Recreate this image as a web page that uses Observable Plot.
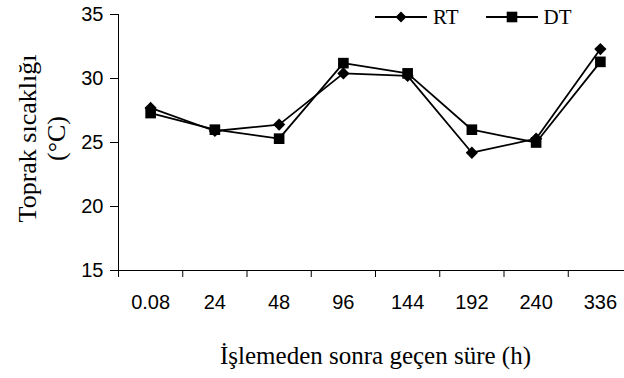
<!DOCTYPE html>
<html>
<head>
<meta charset="utf-8">
<script src="https://cdn.jsdelivr.net/npm/d3@7"></script>
<script src="https://cdn.jsdelivr.net/npm/@observablehq/plot@0.6"></script>
<style>
  html, body { margin: 0; padding: 0; background: #fff; }
  #wrap { position: relative; width: 624px; height: 378px; overflow: hidden; }
  #legend { position: absolute; left: 375px; top: 4px; font-family: "Liberation Serif", "Times New Roman", serif; font-size: 21px; line-height: 26px; color: #000; display: flex; align-items: center; }
  #legend .item { display: flex; align-items: center; }
  #legend svg { display: block; }
  #legend span { margin-left: 6px; }
</style>
</head>
<body>
<div id="wrap"><div id="legend"></div></div>
<script>
const categories = ["0.08", "24", "48", "96", "144", "192", "240", "336"];
const rtValues = [27.7, 25.9, 26.4, 30.4, 30.2, 24.2, 25.3, 32.3];
const dtValues = [27.3, 26.0, 25.3, 31.2, 30.4, 26.0, 25.0, 31.3];
const yTicks = [15, 20, 25, 30, 35];
const seriesNames = ["RT", "DT"];

const data = [];
categories.forEach((c, i) => {
  data.push({i, cat: c, series: "RT", value: rtValues[i]});
  data.push({i, cat: c, series: "DT", value: dtValues[i]});
});

const diamond = {
  draw(ctx, size) {
    const r = Math.sqrt(size / 2);
    ctx.moveTo(0, -r); ctx.lineTo(r, 0); ctx.lineTo(0, r); ctx.lineTo(-r, 0); ctx.closePath();
  }
};

const boundaries = d3.range(categories.length).map(i => i - 0.5);
const sans = "'Liberation Sans', Arial, sans-serif";
const serif = "'Liberation Serif', 'Times New Roman', serif";

const chart = Plot.plot({
  width: 624,
  height: 378,
  marginLeft: 118,
  marginRight: 0,
  marginTop: 14,
  marginBottom: 108,
  style: "font-family: 'Liberation Sans', Arial, sans-serif; font-size: 20px; color: #000; background: #fff;",
  x: {type: "linear", domain: [-0.5, categories.length - 0.5], range: [118, 632]},
  y: {domain: [15, 35]},
  marks: [
    Plot.axisY({ticks: yTicks, tickSize: 8, tickPadding: 7, tickFormat: d => d, label: null, fontSize: 20, fontFamily: sans}),
    Plot.axisX({ticks: boundaries, tickSize: 7, tickFormat: () => "", label: null}),
    Plot.axisX({ticks: d3.range(categories.length), tickSize: 0, tickPadding: 24, tickFormat: i => categories[i], label: null, fontSize: 20, fontFamily: sans}),
    Plot.ruleY([15], {stroke: "#000", strokeWidth: 1}),
    Plot.ruleX([-0.5], {y1: 15, y2: 35, stroke: "#000", strokeWidth: 1}),
    Plot.line(data, {x: "i", y: "value", z: "series", stroke: "#000", strokeWidth: 1.8}),
    Plot.dot(data.filter(d => d.series === "RT"), {x: "i", y: "value", symbol: diamond, r: 4.9, fill: "#000", stroke: "none"}),
    Plot.dot(data.filter(d => d.series === "DT"), {x: "i", y: "value", symbol: "square", r: 6, fill: "#000", stroke: "none"}),
    Plot.text(["Toprak sıcaklığı\n(°C)"], {frameAnchor: "left", rotate: -90, dx: -77, dy: -4, fontFamily: serif, fontSize: 26, lineHeight: 1.08, textAnchor: "middle", lineAnchor: "middle", fill: "#000"}),
    Plot.text(["İşlemeden sonra geçen süre (h)"], {frameAnchor: "bottom", dy: 85, dx: 4, fontFamily: serif, fontSize: 25, textAnchor: "middle", lineAnchor: "middle", fill: "#000"})
  ]
});
document.getElementById("wrap").prepend(chart);

// Legend
const legend = document.getElementById("legend");
seriesNames.forEach((name, k) => {
  const item = document.createElement("div");
  item.className = "item";
  item.style.marginLeft = k === 0 ? "0" : "27px";
  const svg = d3.create("svg").attr("width", 52).attr("height", 26);
  svg.append("line").attr("x1", 0).attr("x2", 52).attr("y1", 13).attr("y2", 13).attr("stroke", "#000").attr("stroke-width", 1.8);
  if (name === "RT") {
    svg.append("path").attr("d", "M26,7.5L31.5,13L26,18.5L20.5,13Z").attr("fill", "#000");
  } else {
    svg.append("rect").attr("x", 20.7).attr("y", 7.7).attr("width", 10.6).attr("height", 10.6).attr("fill", "#000");
  }
  item.appendChild(svg.node());
  const span = document.createElement("span");
  span.textContent = name;
  item.appendChild(span);
  legend.appendChild(item);
});
</script>
</body>
</html>
